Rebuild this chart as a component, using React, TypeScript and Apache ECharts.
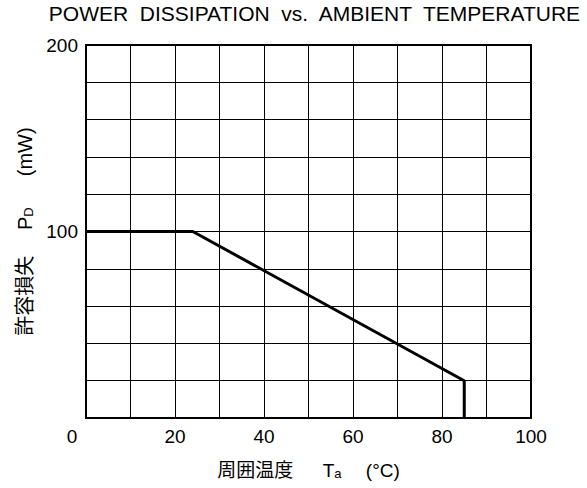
import React, { useEffect, useRef } from "react";
import * as echarts from "echarts";

const curveTemp = [0, 24, 85, 85];
const curvePower = [100, 100, 20, 0];
const xLabelValues = [0, 20, 40, 60, 80, 100];
const yLabelValues = [100, 200];
const titleWords = ["POWER", "DISSIPATION", "vs.", "AMBIENT", "TEMPERATURE"];
const xNameParts = ["周囲温度　  T", "a", "　 (°C)"];
const yNameParts = ["許容損失　 P", "D", "　  (mW)"];

const FONT = "'Liberation Sans', Arial, 'Noto Sans CJK JP', sans-serif";

export default function App() {
  const ref = useRef<HTMLDivElement>(null);
  useEffect(() => {
    if (!ref.current) return;
    const chart = echarts.init(ref.current, null, { renderer: "svg" });
    const data = curveTemp.map((t, i) => [t, curvePower[i]]);
    chart.setOption({
      animation: false,
      backgroundColor: "#fff",
      textStyle: { fontFamily: FONT, color: "#000" },
      title: {
        text: titleWords.join("  "),
        right: 5,
        top: 3,
        padding: 0,
        textStyle: { fontFamily: FONT, fontSize: 21, fontWeight: "normal", color: "#000" },
      },
      grid: {
        left: 86,
        right: 56,
        top: 45,
        bottom: 70,
        show: true,
        borderColor: "#000",
        borderWidth: 2,
        backgroundColor: "transparent",
      },
      xAxis: {
        type: "value",
        min: 0,
        max: 100,
        interval: 10,
        name: `${xNameParts[0]}{sub|${xNameParts[1]}}${xNameParts[2]}`,
        nameLocation: "middle",
        nameGap: 43,
        nameTextStyle: {
          fontFamily: FONT,
          fontSize: 19,
          color: "#000",
          rich: {
            sub: { fontSize: 13, verticalAlign: "bottom", fontFamily: FONT, color: "#000", padding: [6, 0, 0, 0] },
          },
        },
        axisLine: { show: false },
        axisTick: { show: false },
        splitLine: { show: true, lineStyle: { color: "#000", width: 1 } },
        axisLabel: {
          fontFamily: FONT,
          fontSize: 19,
          color: "#000",
          margin: 9,
          formatter: (v: number) => {
            if (!xLabelValues.includes(v)) return "";
            if (v === 0) return "{z|0}";
            return String(v);
          },
          rich: {
            z: { fontFamily: FONT, fontSize: 19, color: "#000", padding: [0, 28, 0, 0] },
          },
        },
      },
      yAxis: {
        type: "value",
        min: 0,
        max: 200,
        interval: 20,
        name: `${yNameParts[0]}{sub|${yNameParts[1]}}${yNameParts[2]}`,
        nameLocation: "middle",
        nameRotate: 90,
        nameGap: 49,
        nameTextStyle: {
          fontFamily: FONT,
          fontSize: 20,
          color: "#000",
          rich: {
            sub: { fontSize: 13, verticalAlign: "bottom", fontFamily: FONT, color: "#000", padding: [6, 0, 0, 0] },
          },
        },
        axisLine: { show: false },
        axisTick: { show: false },
        splitLine: { show: true, lineStyle: { color: "#000", width: 1 } },
        axisLabel: {
          fontFamily: FONT,
          fontSize: 19,
          color: "#000",
          margin: 8,
          formatter: (v: number) => (yLabelValues.includes(v) ? String(v) : ""),
        },
      },
      series: [
        {
          type: "line",
          data,
          symbol: "none",
          lineStyle: { color: "#000", width: 3 },
          z: 5,
        },
      ],
    });
    return () => chart.dispose();
  }, []);
  return (
    <div
      ref={ref}
      style={{ position: "fixed", left: 0, top: 0, width: 587, height: 488 }}
    />
  );
}
